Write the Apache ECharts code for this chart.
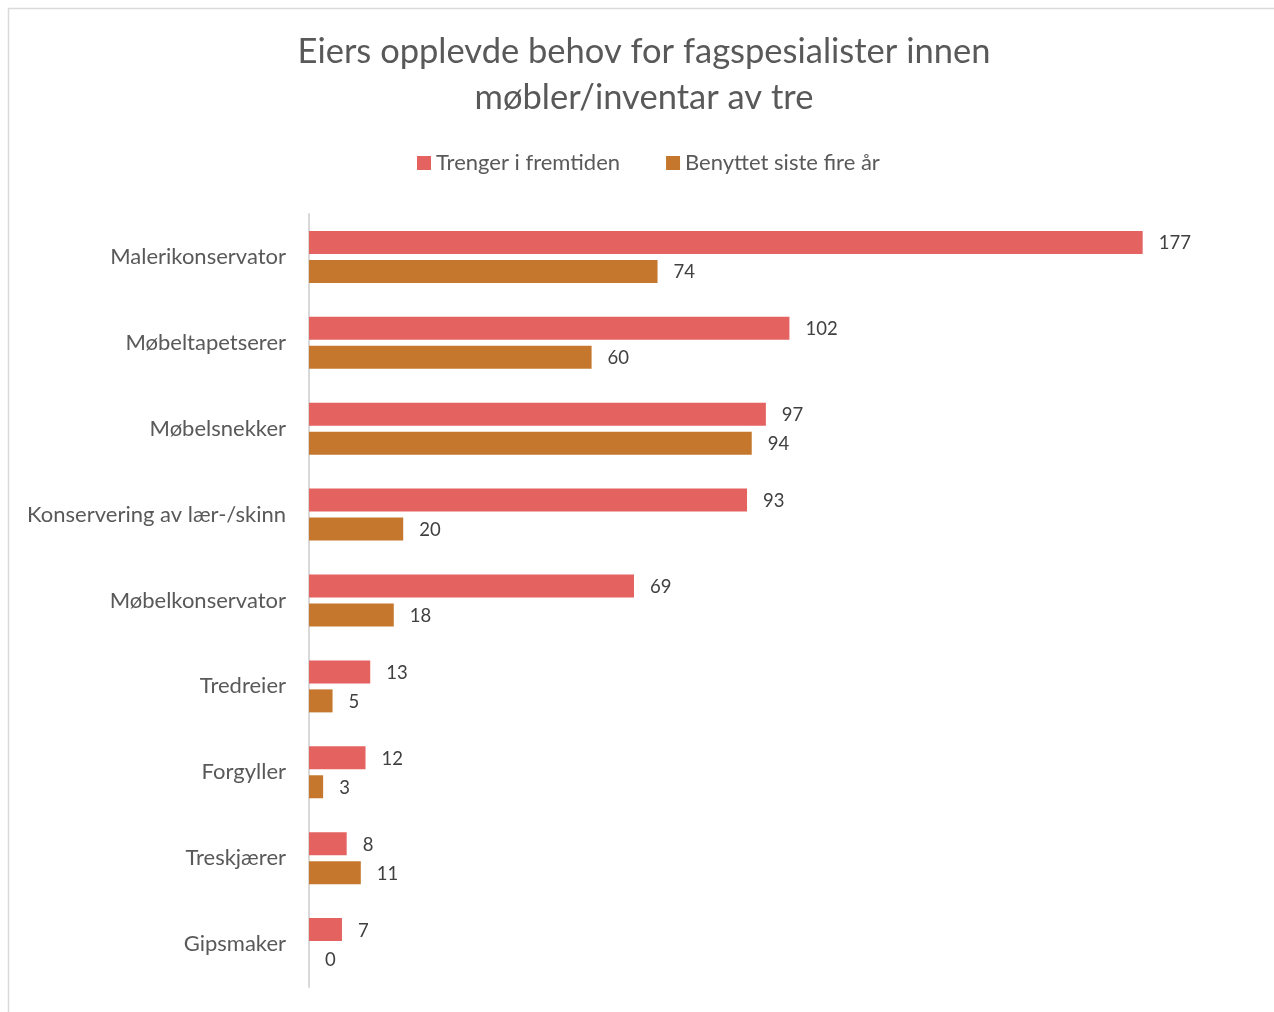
<!DOCTYPE html>
<html><head><meta charset="utf-8">
<script src="https://cdn.jsdelivr.net/npm/echarts@6/dist/echarts.min.js"></script>
<style>html,body{margin:0;padding:0;background:#fff}#c{width:1274px;height:1012px}</style>
</head><body><div id="c"></div>
<script>
const categories = ["Malerikonservator","Møbeltapetserer","Møbelsnekker","Konservering av lær-/skinn","Møbelkonservator","Tredreier","Forgyller","Treskjærer","Gipsmaker"];
const trenger = [177,102,97,93,69,13,12,8,7];
const benyttet = [74,60,94,20,18,5,3,11,0];
const seriesNames = ["Trenger i fremtiden","Benyttet siste fire år"];
const FONT = 'Lato';
const chart = echarts.init(document.getElementById('c'));
chart.setOption({
  backgroundColor:'#fff',
  animation:false,
  graphic:[{type:'rect',shape:{x:8.5,y:8.5,width:1300,height:1100},style:{fill:'none',stroke:'#d9d9d9',lineWidth:1.5}}],
  title:{text:'Eiers opplevde behov for fagspesialister innen\nmøbler/inventar av tre',left:639,textAlign:'center',top:24,
    textStyle:{fontFamily:FONT,fontSize:34.5,fontWeight:'normal',color:'#595959',lineHeight:46}},
  legend:{top:147,left:412,itemWidth:14,itemHeight:14,itemGap:46,icon:'rect',itemStyle:{borderWidth:0},
    textStyle:{fontFamily:FONT,fontSize:22,color:'#595959'},data:seriesNames},
  grid:{left:309,top:214,width:942,height:773,containLabel:false},
  xAxis:{type:'value',min:0,max:200,show:false},
  yAxis:{type:'category',data:categories,inverse:true,
    axisLine:{show:true,lineStyle:{color:'#d9d9d9',width:2}},axisTick:{show:false},
    axisLabel:{fontFamily:FONT,fontSize:22,color:'#595959',margin:23}},
  series:[
    {name:seriesNames[0],type:'bar',data:trenger,barWidth:23,barGap:'26%',itemStyle:{color:'#E46361'},
      label:{show:true,position:'right',distance:16,offset:[0,1],fontFamily:FONT,fontSize:18.5,color:'#404040'}},
    {name:seriesNames[1],type:'bar',data:benyttet,barWidth:23,itemStyle:{color:'#C5782D'},
      label:{show:true,position:'right',distance:16,offset:[0,1],fontFamily:FONT,fontSize:18.5,color:'#404040'}}
  ]
});
</script></body></html>
